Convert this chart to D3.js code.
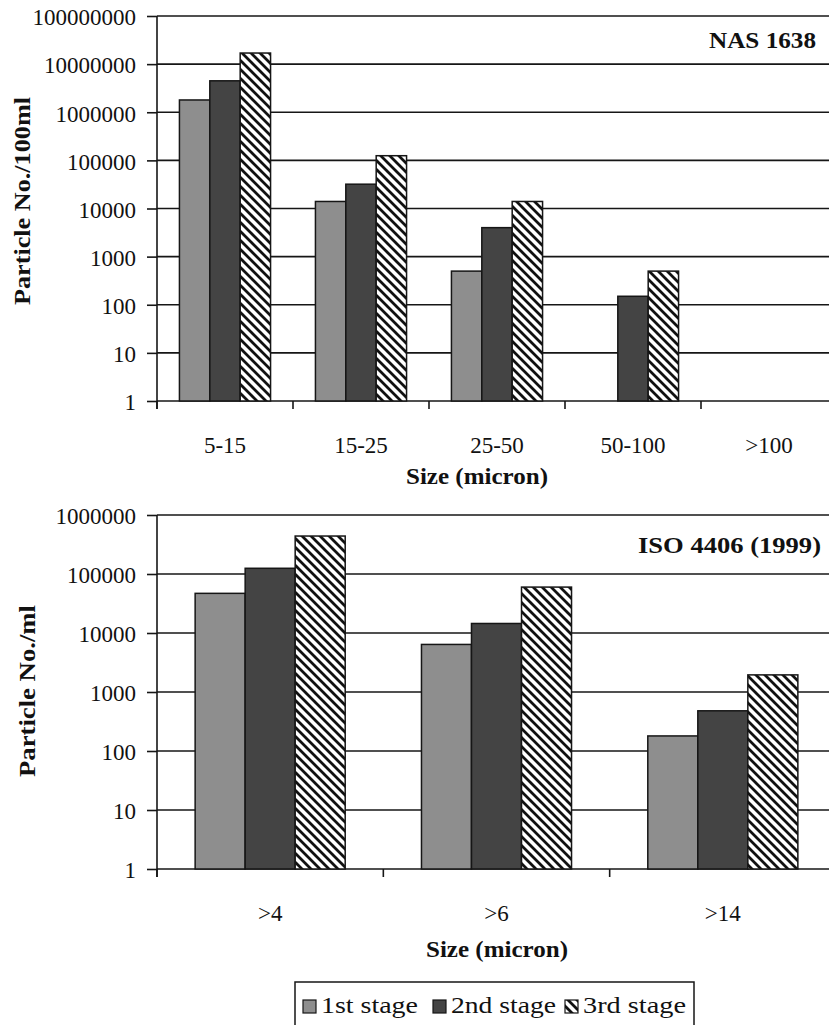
<!DOCTYPE html>
<html>
<head>
<meta charset="utf-8">
<script src="https://cdn.jsdelivr.net/npm/d3@7"></script>
<style>
  html, body { margin: 0; padding: 0; background: #fff; }
  svg { display: block; }
  text { font-family: "Liberation Serif", "Times New Roman", serif; fill: #111; }
</style>
</head>
<body>
<script>
// Particle counts after each filtration stage (NAS 1638, per 100 ml)
const nasCategories = ["5-15", "15-25", "25-50", "50-100", ">100"];
const nasStage1 = [1800000, 14000, 500, null, null];
const nasStage2 = [4500000, 32000, 4000, 150, null];
const nasStage3 = [17000000, 125000, 14000, 500, null];
const nasTicks = [1, 10, 100, 1000, 10000, 100000, 1000000, 10000000, 100000000];

// Particle counts after each filtration stage (ISO 4406 (1999), per ml)
const isoCategories = [">4", ">6", ">14"];
const isoStage1 = [47000, 6400, 180];
const isoStage2 = [125000, 14500, 480];
const isoStage3 = [440000, 60000, 1950];
const isoTicks = [1, 10, 100, 1000, 10000, 100000, 1000000];

const stageNames = ["1st stage", "2nd stage", "3rd stage"];

const W = 829, H = 1025;
const svg = d3.select("body").append("svg").attr("width", W).attr("height", H);
svg.append("rect").attr("width", W).attr("height", H).attr("fill", "#fff");

// diagonal hatch for the 3rd stage
const defs = svg.append("defs");
const P = 9;
const pat = defs.append("pattern")
  .attr("id", "hatch").attr("patternUnits", "userSpaceOnUse")
  .attr("width", P).attr("height", P);
pat.append("rect").attr("width", P).attr("height", P).attr("fill", "#fff");
pat.append("path")
  .attr("d", `M-2,-2 L${P + 2},${P + 2} M-2,${P - 2} L2,${P + 2} M${P - 2},-2 L${P + 2},2`)
  .attr("stroke", "#111").attr("stroke-width", 2.8);

const fills = ["#8e8e8e", "#444444", "url(#hatch)"];
const fmt = d3.format("d");
const INK = "#161616";

function drawPanel(p) {
  const g = svg.append("g");
  const x = d3.scaleBand().domain(p.categories).range([p.left, p.right])
    .paddingInner(p.pad).paddingOuter(p.pad / 2);
  const xs = d3.scaleBand().domain(stageNames).range([0, x.bandwidth()]);
  const y = d3.scaleLog().domain([1, p.ticks[p.ticks.length - 1]]).range([p.bottom, p.top]);

  // horizontal gridlines
  g.append("g").selectAll("line").data(p.ticks).join("line")
    .attr("x1", p.left).attr("x2", W + 20)
    .attr("y1", d => y(d)).attr("y2", d => y(d))
    .attr("stroke", INK).attr("stroke-width", 1.6);

  // bars
  const series = [p.s1, p.s2, p.s3];
  series.forEach((vals, si) => {
    g.append("g").selectAll("rect")
      .data(p.categories.map((c, i) => ({ c, v: vals[i] })).filter(d => d.v != null))
      .join("rect")
      .attr("x", d => x(d.c) + xs(stageNames[si]))
      .attr("width", xs.bandwidth())
      .attr("y", d => y(d.v))
      .attr("height", d => y(1) - y(d.v))
      .attr("fill", fills[si])
      .attr("stroke", INK).attr("stroke-width", 1.5);
  });

  // y axis
  const ya = g.append("g").attr("transform", `translate(${p.left},0)`)
    .call(d3.axisLeft(y).tickValues(p.ticks).tickFormat(fmt).tickSize(10).tickPadding(11));
  ya.select(".domain").remove();
  ya.selectAll(".tick line").attr("stroke", INK).attr("stroke-width", 1.6);
  ya.selectAll(".tick text")
    .attr("font-family", "Liberation Serif, serif").attr("font-size", 23)
    .attr("fill", "#111").attr("dy", "0.38em");
  g.append("line").attr("x1", p.left).attr("x2", p.left)
    .attr("y1", p.top).attr("y2", p.bottom + 8)
    .attr("stroke", INK).attr("stroke-width", 1.6);

  // x axis ticks between groups
  const edges = p.categories.map(c => x(c) - x.step() * p.pad / 2);
  g.append("g").selectAll("line").data(edges).join("line")
    .attr("x1", d => d).attr("x2", d => d)
    .attr("y1", p.bottom).attr("y2", p.bottom + 8)
    .attr("stroke", INK).attr("stroke-width", 1.6);

  // category labels
  g.append("g").selectAll("text").data(p.categories).join("text")
    .attr("x", d => x(d) + x.bandwidth() / 2)
    .attr("y", p.bottom + 52)
    .attr("text-anchor", "middle").attr("font-size", 23)
    .text(d => d);

  // axis titles
  g.append("text").attr("x", p.xTitleX).attr("y", p.xTitleY)
    .attr("text-anchor", "middle").attr("font-size", 23).attr("font-weight", "bold")
    .attr("textLength", 142).attr("lengthAdjust", "spacingAndGlyphs")
    .text("Size (micron)");
  g.append("text")
    .attr("transform", `translate(${p.yTitleX},${p.yTitleY}) rotate(-90)`)
    .attr("text-anchor", "middle").attr("font-size", 23).attr("font-weight", "bold")
    .attr("textLength", p.yTitleLen).attr("lengthAdjust", "spacingAndGlyphs")
    .text(p.yTitle);

  // panel label
  g.append("text").attr("x", p.labelX).attr("y", p.labelY)
    .attr("text-anchor", "end").attr("font-size", 23).attr("font-weight", "bold")
    .attr("textLength", p.labelLen).attr("lengthAdjust", "spacingAndGlyphs")
    .text(p.label);
}

drawPanel({
  categories: nasCategories, s1: nasStage1, s2: nasStage2, s3: nasStage3, ticks: nasTicks,
  left: 157, right: 837, top: 16, bottom: 401, pad: 0.33,
  xTitleX: 477, xTitleY: 484,
  yTitle: "Particle No./100ml", yTitleX: 30, yTitleY: 201, yTitleLen: 208,
  label: "NAS 1638", labelX: 816, labelY: 48, labelLen: 107
});

drawPanel({
  categories: isoCategories, s1: isoStage1, s2: isoStage2, s3: isoStage3, ticks: isoTicks,
  left: 157, right: 836, top: 515, bottom: 869, pad: 0.337,
  xTitleX: 497, xTitleY: 957,
  yTitle: "Particle No./ml", yTitleX: 35, yTitleY: 691, yTitleLen: 172,
  label: "ISO 4406 (1999)", labelX: 821, labelY: 553, labelLen: 183
});

// legend
const leg = svg.append("g");
leg.append("rect").attr("x", 295).attr("y", 982).attr("width", 399).attr("height", 70)
  .attr("fill", "#fff").attr("stroke", INK).attr("stroke-width", 1.5);
const legX = [303, 433, 565];
const legLen = [97, 105, 103];
stageNames.forEach((name, i) => {
  leg.append("rect").attr("x", legX[i]).attr("y", 1000).attr("width", 13).attr("height", 13)
    .attr("fill", fills[i]).attr("stroke", INK).attr("stroke-width", 1.2);
  leg.append("text").attr("x", legX[i] + 18).attr("y", 1013)
    .attr("font-size", 23).attr("textLength", legLen[i]).attr("lengthAdjust", "spacingAndGlyphs")
    .text(name);
});
</script>
</body>
</html>
